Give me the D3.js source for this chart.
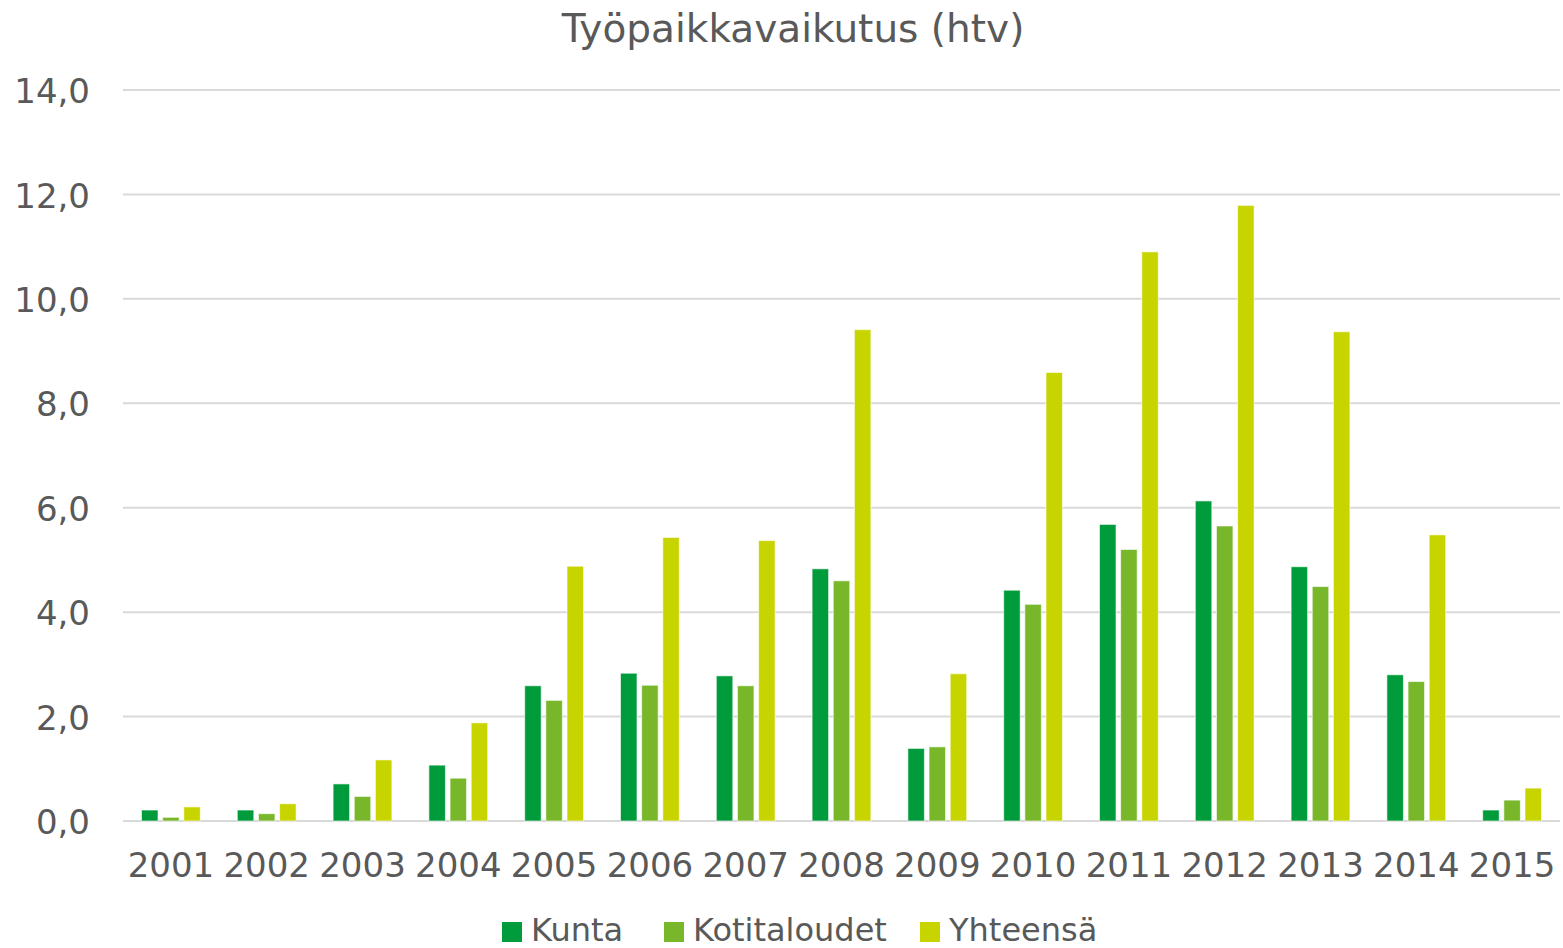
<!DOCTYPE html>
<html lang="fi">
<head>
<meta charset="UTF-8">
<title>Työpaikkavaikutus (htv)</title>
<script src="https://d3js.org/d3.v7.min.js"></script>
<style>
    body { margin: 0; background: #fff; }
    text { font-family: "DejaVu Sans", "Liberation Sans", sans-serif; fill: #595959; }
    .grid-line { stroke: #d9d9d9; stroke-width: 2px; }
    .bar { stroke: #ffffff; stroke-opacity: 0.6; stroke-width: 1px; }
</style>
</head>
<body>
<div id="container"></div>
<script>
// data
var years = ["2001", "2002", "2003", "2004", "2005", "2006", "2007", "2008",
             "2009", "2010", "2011", "2012", "2013", "2014", "2015"];
var kunta = [0.21, 0.21, 0.71, 1.07, 2.59, 2.83, 2.78, 4.83, 1.39, 4.42, 5.68, 6.13, 4.87, 2.80, 0.21];
var kotitaloudet = [0.07, 0.14, 0.47, 0.82, 2.31, 2.60, 2.59, 4.60, 1.42, 4.15, 5.20, 5.65, 4.49, 2.67, 0.40];
var yhteensa = [0.27, 0.33, 1.17, 1.88, 4.88, 5.43, 5.37, 9.41, 2.82, 8.59, 10.90, 11.79, 9.37, 5.48, 0.63];
var seriesNames = ["Kunta", "Kotitaloudet", "Yhteensä"];
var seriesColors = ["#009b3a", "#78b72a", "#c8d400"];
var yTicks = [0, 2, 4, 6, 8, 10, 12, 14];

var series = [kunta, kotitaloudet, yhteensa];

var W = 1563, H = 948;
var margin = { top: 90, right: 3, bottom: 127, left: 123 };
var width = W - margin.left - margin.right,
    height = H - margin.top - margin.bottom;

var svg = d3.select("#container").append("svg")
    .attr("width", W)
    .attr("height", H);

// title
svg.append("text")
    .attr("x", 793)
    .attr("y", 42)
    .attr("text-anchor", "middle")
    .style("font-size", "39px")
    .text("Työpaikkavaikutus (htv)");

var g = svg.append("g")
    .attr("transform", "translate(" + margin.left + "," + margin.top + ")");

var x = d3.scaleBand().domain(years).range([0, width]).paddingInner(0).paddingOuter(0);
var x1 = d3.scaleBand().domain(seriesNames).range([18.5, x.bandwidth() - 18.5]).paddingInner(0.22).paddingOuter(0);
var y = d3.scaleLinear().domain([0, 14]).range([height, 0]);

// gridlines
g.append("g").selectAll("line")
    .data(yTicks)
    .enter().append("line")
    .attr("class", "grid-line")
    .attr("x1", 0)
    .attr("x2", width)
    .attr("y1", function (d) { return y(d); })
    .attr("y2", function (d) { return y(d); });

// y axis labels
var yAxis = d3.axisLeft(y)
    .tickValues(yTicks)
    .tickSize(0)
    .tickPadding(33)
    .tickFormat(function (d) { return d3.format(".1f")(d).replace(".", ","); });

var yAxisG = g.append("g").call(yAxis);
yAxisG.select(".domain").remove();
yAxisG.selectAll("text")
    .style("font-size", "34px")
    .style("font-family", null)
    .attr("dy", "0.37em");

// x axis labels
var xAxis = d3.axisBottom(x).tickSize(0).tickPadding(32);
var xAxisG = g.append("g")
    .attr("transform", "translate(0," + height + ")")
    .call(xAxis);
xAxisG.select(".domain").remove();
xAxisG.selectAll("text")
    .style("font-size", "34px")
    .style("font-family", null);

// bars
var groups = g.append("g").selectAll("g")
    .data(years)
    .enter().append("g")
    .attr("transform", function (d) { return "translate(" + x(d) + ",0)"; });

groups.selectAll("rect")
    .data(function (d, i) {
        return seriesNames.map(function (name, s) {
            return { name: name, value: series[s][i], color: seriesColors[s] };
        });
    })
    .enter().append("rect")
    .attr("class", "bar")
    .attr("x", function (d) { return x1(d.name); })
    .attr("width", x1.bandwidth())
    .attr("y", function (d) { return y(d.value); })
    .attr("height", function (d) { return height - y(d.value); })
    .attr("fill", function (d) { return d.color; });

// legend
var legendX = [502, 664, 920];
var legend = svg.append("g").attr("transform", "translate(0,922)");

var items = legend.selectAll("g")
    .data(seriesNames)
    .enter().append("g")
    .attr("transform", function (d, i) { return "translate(" + legendX[i] + ",0)"; });

items.append("rect")
    .attr("width", 20)
    .attr("height", 20)
    .attr("fill", function (d, i) { return seriesColors[i]; });

items.append("text")
    .attr("x", 29)
    .attr("y", 19)
    .style("font-size", "32px")
    .text(function (d) { return d; });
</script>
</body>
</html>
